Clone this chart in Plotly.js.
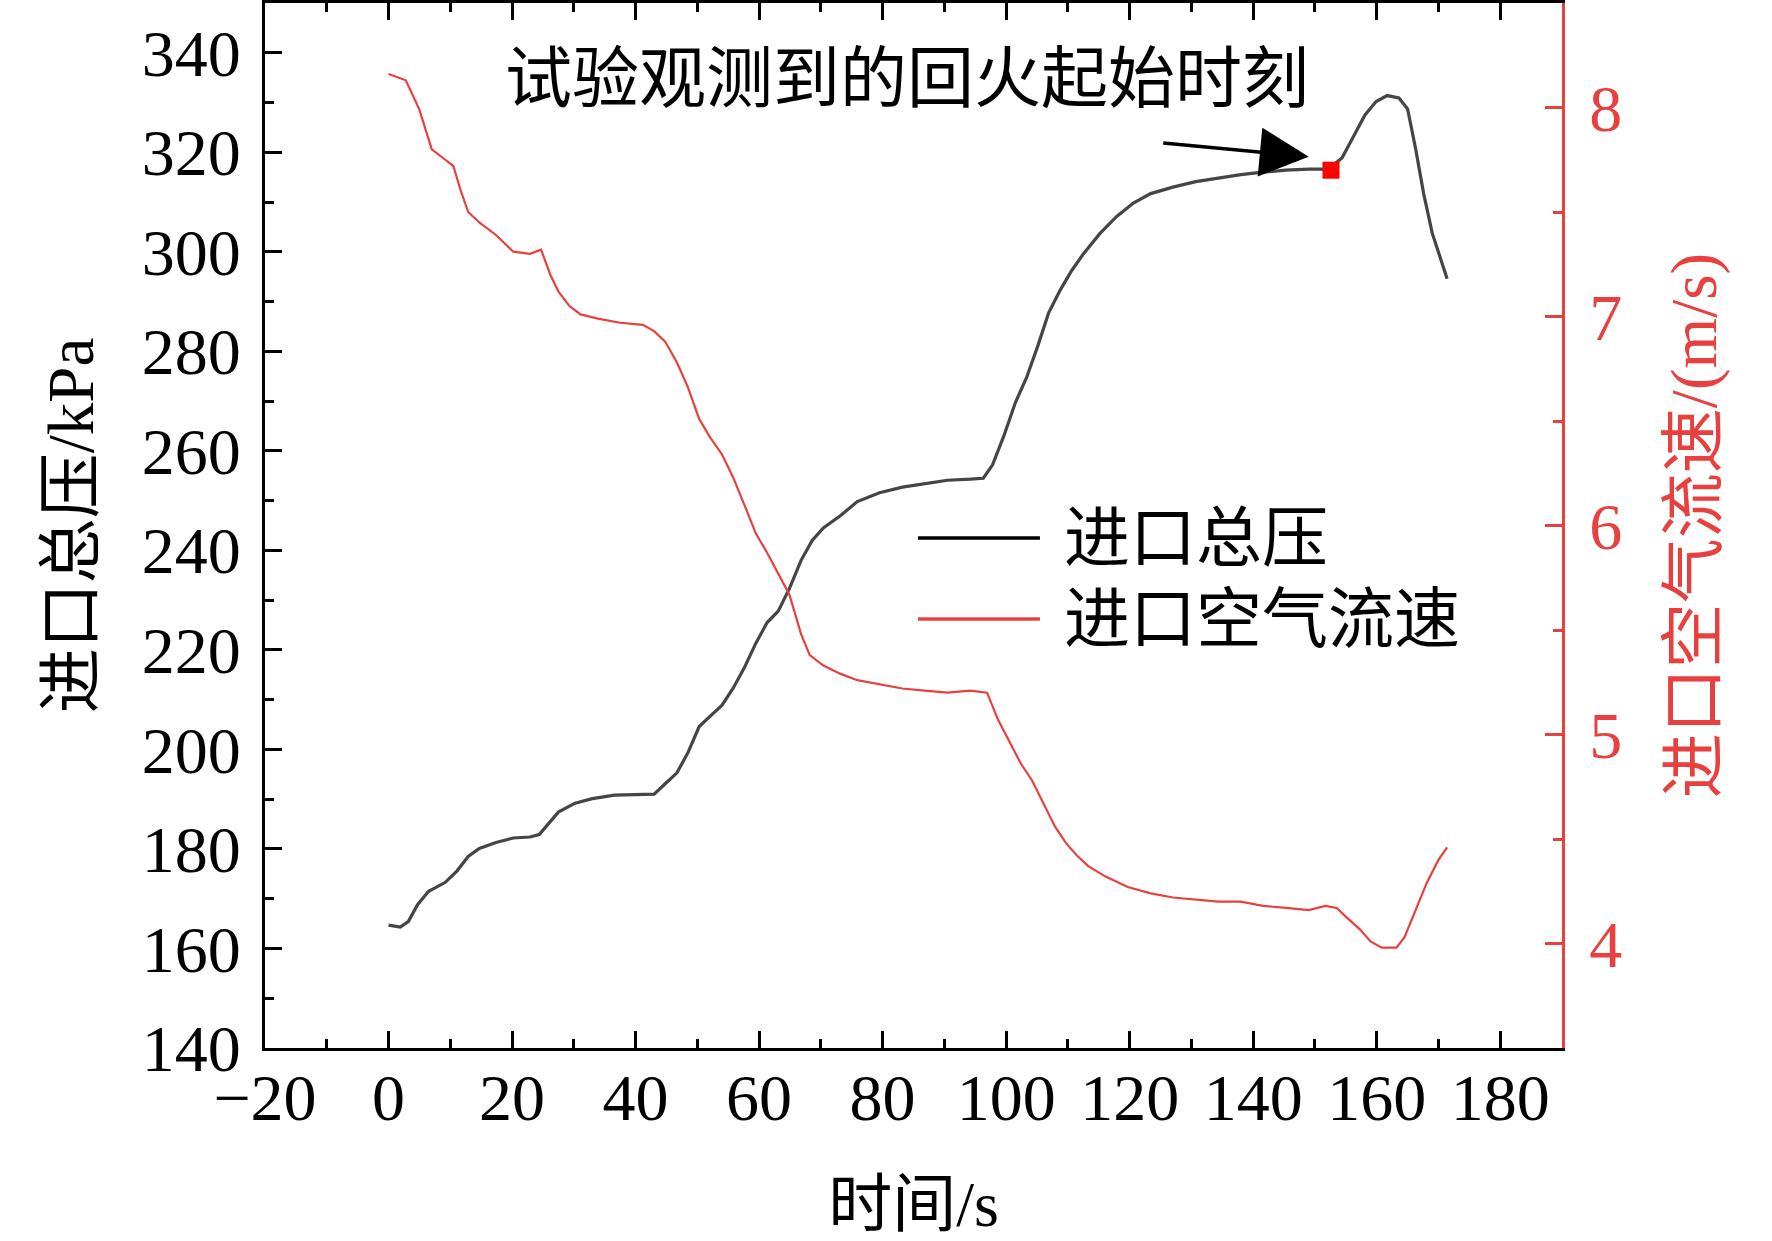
<!DOCTYPE html>
<html>
<head>
<meta charset="utf-8">
<script src="https://cdn.plot.ly/plotly-3.0.1.min.js"></script>
<style>html,body{margin:0;padding:0;background:#fff;}#chart{width:1772px;height:1241px;}</style>
</head>
<body>
<div id="chart"></div>
<script>
// Inlet total pressure (kPa) vs time (s)
const pressureTime = [0,1.9,3.2,4.7,6.5,9.2,11.1,12.9,14.7,17.4,20.2,22.9,24.4,25.7,27.5,30.2,33.0,36.6,40.3,43.0,44.8,46.7,48.5,50.3,52.1,54.0,55.8,57.6,59.5,61.3,63.1,64.9,66.8,68.6,70.4,73.2,75.9,79.5,83.2,86.8,90.5,94.2,96.3,97.8,99.6,101.5,103.3,105.1,106.9,108.8,110.6,112.4,115.2,117.9,120.6,123.4,127.0,130.7,134.3,138.0,141.6,145.3,149.0,152.2,154.4,156.3,158.1,159.9,161.7,163.6,165.0,166.3,167.6,169.0,170.5,171.4];
const pressure = [164.7,164.3,165.4,168.8,171.5,173.3,175.6,178.5,180.1,181.3,182.2,182.4,182.9,184.7,187.4,189.2,190.1,190.8,191.0,191.0,193.1,195.3,199.4,204.6,206.7,208.9,212.3,216.4,221.4,225.5,227.8,232.3,238.0,242.0,244.5,247.0,249.8,251.6,252.7,253.4,254.1,254.3,254.5,257.2,262.9,269.7,274.7,281.0,287.8,292.4,296.2,299.4,303.7,307.1,309.8,311.7,313.0,314.1,314.8,315.5,316.0,316.4,316.6,316.6,318.9,323.4,327.5,330.2,331.4,330.9,328.7,320.7,311.7,303.7,298.0,294.6];

// Inlet air velocity (m/s) vs time (s)
const velocityTime = [0,2.8,5.0,7.0,9.2,10.5,11.6,12.9,14.7,17.4,20.2,22.9,24.7,26.2,27.5,29.3,31.1,33.9,37.5,41.2,43.0,44.8,46.7,48.5,50.3,52.1,54.0,55.8,57.6,59.5,61.3,63.1,64.9,66.8,68.2,70.4,73.2,75.9,79.5,83.2,86.8,90.5,94.2,96.9,98.7,100.5,102.4,104.2,106.0,107.9,109.7,111.5,113.3,116.1,119.7,123.4,127.0,130.7,134.3,138.0,141.6,145.3,149.0,151.7,153.5,155.3,157.2,159.0,160.8,163.2,164.5,166.3,168.1,170.0,171.4];
const velocity = [8.16,8.13,7.99,7.80,7.75,7.72,7.61,7.50,7.45,7.39,7.31,7.30,7.32,7.20,7.12,7.05,7.01,6.99,6.97,6.96,6.93,6.88,6.78,6.66,6.51,6.42,6.34,6.23,6.10,5.96,5.87,5.77,5.67,5.48,5.38,5.33,5.29,5.26,5.24,5.22,5.21,5.20,5.21,5.20,5.07,4.97,4.86,4.78,4.67,4.56,4.48,4.42,4.37,4.32,4.27,4.24,4.22,4.21,4.20,4.20,4.18,4.17,4.16,4.18,4.17,4.12,4.07,4.01,3.98,3.98,4.03,4.16,4.29,4.40,4.46];

// Observed flashback onset
const onsetTime = [152.6];
const onsetPressure = [316.4];
const arrowTail = [125.2, 321.9];
const arrowTip = [149.0, 319.1];

const seriesNames = ['进口总压', '进口空气流速'];
const annotationText = '试验观测到的回火起始时刻';
const xTitle = '时间/s';
const yTitle = '进口总压/kPa';
const y2Title = '进口空气流速/(m/s)';

const BLACK = '#454545';
const RED = '#E8403F';
const FONT = 'Liberation Serif, Times New Roman, Noto Sans CJK SC, serif';

const traces = [
  {x: pressureTime, y: pressure, type: 'scatter', mode: 'lines', name: seriesNames[0],
   line: {color: BLACK, width: 3.2}, yaxis: 'y', showlegend: false},
  {x: velocityTime, y: velocity, type: 'scatter', mode: 'lines', name: seriesNames[1],
   line: {color: RED, width: 2.2}, yaxis: 'y2', showlegend: false},
  {x: onsetTime, y: onsetPressure, type: 'scatter', mode: 'markers', name: 'onset',
   marker: {symbol: 'square', size: 17, color: '#FF0000'}, yaxis: 'y', showlegend: false}
];

const layout = {
  width: 1772, height: 1241,
  margin: {l: 265, r: 210, t: 3, b: 193},
  paper_bgcolor: '#fff', plot_bgcolor: '#fff',
  font: {family: FONT, color: '#000'},
  showlegend: false,
  xaxis: {
    range: [-20, 190], tick0: -20, dtick: 20,
    ticks: 'inside', ticklen: 17, tickwidth: 3, tickcolor: '#000',
    minor: {dtick: 10, ticks: 'inside', ticklen: 9, tickwidth: 3, tickcolor: '#000'},
    showline: true, linewidth: 3, linecolor: '#000', mirror: 'ticks',
    showgrid: false, zeroline: false,
    tickfont: {family: FONT, size: 66, color: '#000'},
    ticklabelstandoff: -10,
    title: {text: xTitle, font: {family: FONT, size: 64, color: '#000'}, standoff: 48}
  },
  yaxis: {
    range: [140, 350], tick0: 140, dtick: 20,
    ticks: 'inside', ticklen: 17, tickwidth: 3, tickcolor: '#000',
    minor: {dtick: 10, ticks: 'inside', ticklen: 9, tickwidth: 3, tickcolor: '#000'},
    showline: true, linewidth: 3, linecolor: '#000',
    showgrid: false, zeroline: false,
    tickfont: {family: FONT, size: 66, color: '#000'},
    ticklabelstandoff: 8,
    title: {text: yTitle, font: {family: FONT, size: 65, color: '#000'}, standoff: 28}
  },
  yaxis2: {
    overlaying: 'y', side: 'right', anchor: 'x',
    range: [3.5, 8.5], tick0: 0, dtick: 1,
    ticks: 'inside', ticklen: 17, tickwidth: 3, tickcolor: RED,
    minor: {dtick: 0.5, ticks: 'inside', ticklen: 9, tickwidth: 3, tickcolor: RED},
    showline: true, linewidth: 3, linecolor: RED,
    showgrid: false, zeroline: false,
    tickfont: {family: FONT, size: 66, color: RED},
    ticklabelstandoff: 11,
    title: {text: y2Title, font: {family: FONT, size: 65, color: RED}, standoff: 50}
  },
  shapes: [
    {type: 'line', xref: 'paper', yref: 'paper', x0: 0.5035, x1: 0.5975, y0: 0.488, y1: 0.488,
     line: {color: '#000', width: 3.5}},
    {type: 'line', xref: 'paper', yref: 'paper', x0: 0.5035, x1: 0.5975, y0: 0.4105, y1: 0.4105,
     line: {color: RED, width: 3.5}}
  ],
  annotations: [
    {xref: 'paper', yref: 'paper', x: 0.6145, y: 0.488, xanchor: 'left', yanchor: 'middle',
     text: seriesNames[0], showarrow: false, font: {family: FONT, size: 66, color: '#000'}},
    {xref: 'paper', yref: 'paper', x: 0.6145, y: 0.4105, xanchor: 'left', yanchor: 'middle',
     text: seriesNames[1], showarrow: false, font: {family: FONT, size: 66, color: '#000'}},
    {xref: 'paper', yref: 'paper', x: 0.495, y: 0.927, xanchor: 'center', yanchor: 'middle',
     text: annotationText, showarrow: false, font: {family: FONT, size: 67, color: '#000'}},
    {xref: 'x', yref: 'y', x: arrowTip[0], y: arrowTip[1], axref: 'x', ayref: 'y',
     ax: arrowTail[0], ay: arrowTail[1], text: '', showarrow: true,
     arrowhead: 2, arrowsize: 2.8, arrowwidth: 3.5, arrowcolor: '#000', standoff: 0}
  ]
};

Plotly.newPlot('chart', traces, layout, {displayModeBar: false, staticPlot: true});
</script>
</body>
</html>
